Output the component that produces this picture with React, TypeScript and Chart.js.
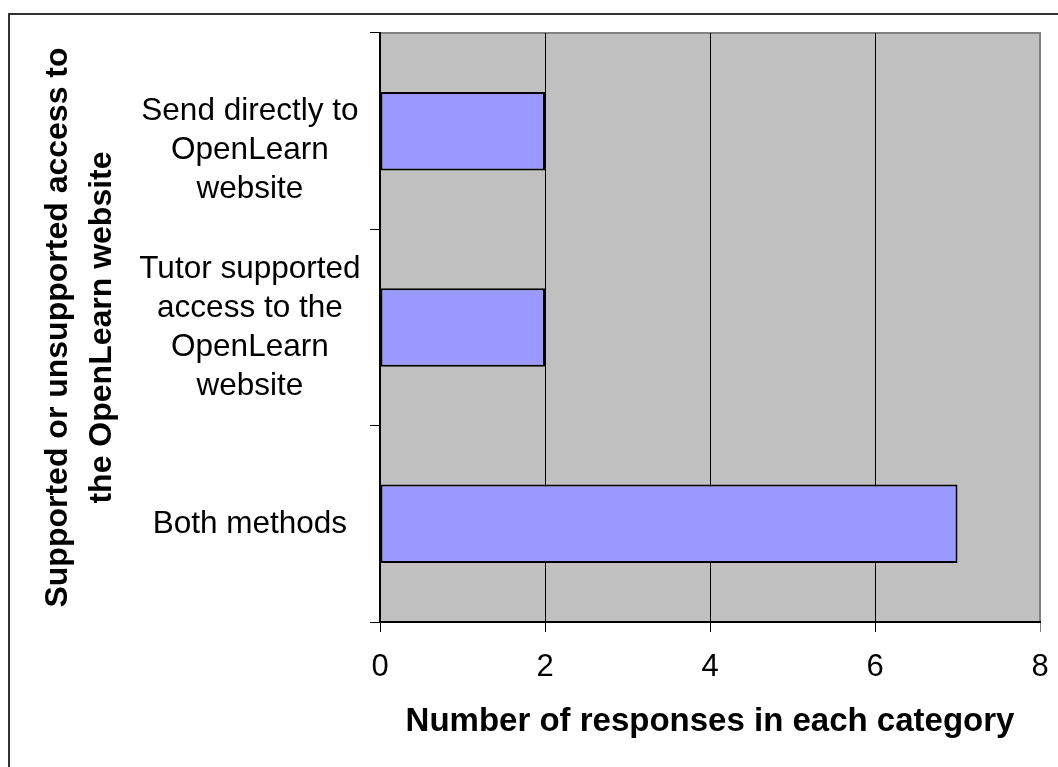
import React, { useEffect, useRef } from "react";
import { Chart, registerables } from "chart.js";

Chart.register(...registerables);

const categories: (string | string[])[] = [
  ["", "Send directly to", "OpenLearn", "website"],
  ["Tutor supported", "access to the", "OpenLearn", "website"],
  "Both methods",
];
const responses: number[] = [2, 2, 7];
const xTicks: number[] = [0, 2, 4, 6, 8];
const xTitle = "Number of responses in each category";
const yTitle: string[] = ["Supported or unsupported access to", "the OpenLearn website"];

const FONT = "'Liberation Sans', Arial, Helvetica, sans-serif";

const frame = {
  id: "frame",
  beforeDraw(chart: any) {
    const { ctx, chartArea: a } = chart;
    ctx.save();
    ctx.fillStyle = "#ffffff";
    ctx.fillRect(0, 0, chart.width, chart.height);
    ctx.fillStyle = "#C0C0C0";
    ctx.fillRect(a.left, a.top, a.right - a.left, a.bottom - a.top);
    ctx.strokeStyle = "#808080";
    ctx.lineWidth = 2;
    ctx.strokeRect(a.left, a.top, a.right - a.left, a.bottom - a.top);
    ctx.restore();
  },
  afterDraw(chart: any) {
    const { ctx } = chart;
    ctx.save();
    ctx.strokeStyle = "#333333";
    ctx.lineWidth = 2;
    ctx.beginPath();
    ctx.moveTo(9, chart.height);
    ctx.lineTo(9, 14);
    ctx.lineTo(chart.width, 14);
    ctx.stroke();
    ctx.restore();
  },
};

export default function App() {
  const ref = useRef<HTMLCanvasElement | null>(null);
  useEffect(() => {
    if (!ref.current) return;
    const chart = new Chart(ref.current, {
      type: "bar",
      data: {
        labels: categories,
        datasets: [
          {
            data: responses,
            backgroundColor: "#9999FF",
            borderColor: "#000000",
            borderWidth: 2,
            borderSkipped: false,
            categoryPercentage: 1,
            barPercentage: 0.4,
          },
        ],
      },
      options: {
        indexAxis: "y",
        animation: false,
        responsive: false,
        events: [],
        layout: { padding: { top: 33, right: 18, left: 0, bottom: 0 } },
        plugins: { legend: { display: false }, tooltip: { enabled: false } },
        scales: {
          x: {
            type: "linear",
            min: 0,
            max: 8,
            afterBuildTicks: (s: any) => {
              s.ticks = xTicks.map((v) => ({ value: v }));
            },
            afterFit: (s: any) => {
              s.height = 145;
              s.paddingLeft = 0;
              s.paddingRight = 9;
            },
            ticks: {
              color: "#000",
              padding: 17,
              font: { family: FONT, size: 31 },
            },
            grid: {
              color: (c: any) => (c.tick && c.tick.value === 8 ? "#808080" : "#000000"),
              lineWidth: 1,
              tickLength: 10,
              drawTicks: true,
            },
            border: { display: true, color: "#000", width: 2 },
            title: {
              display: true,
              text: xTitle,
              color: "#000",
              font: { family: FONT, size: 33, weight: "bold", lineHeight: 1.375 },
              padding: { top: 0, bottom: 22 },
            },
          },
          y: {
            type: "category",
            offset: true,
            afterFit: (s: any) => {
              s.width = 380;
            },
            ticks: {
              color: "#000",
              padding: 9.5,
              crossAlign: "center",
              font: { family: FONT, size: 31.5, lineHeight: 1.24 },
            },
            grid: {
              offset: true,
              drawOnChartArea: false,
              drawTicks: true,
              tickLength: 10,
              color: "#000",
              lineWidth: 1,
            },
            border: { display: true, color: "#000", width: 2 },
            title: {
              display: true,
              text: yTitle,
              color: "#000",
              font: { family: FONT, size: 32, weight: "bold", lineHeight: 1.375 },
              padding: { top: 36, bottom: 0 },
            },
          },
        },
      },
      plugins: [frame],
    } as any);
    return () => chart.destroy();
  }, []);
  return (
    <div style={{ position: "fixed", left: 0, top: 0, width: 1058, height: 767, background: "#fff" }}>
      <canvas ref={ref} width={1058} height={767} style={{ display: "block", width: 1058, height: 767 }} />
    </div>
  );
}
